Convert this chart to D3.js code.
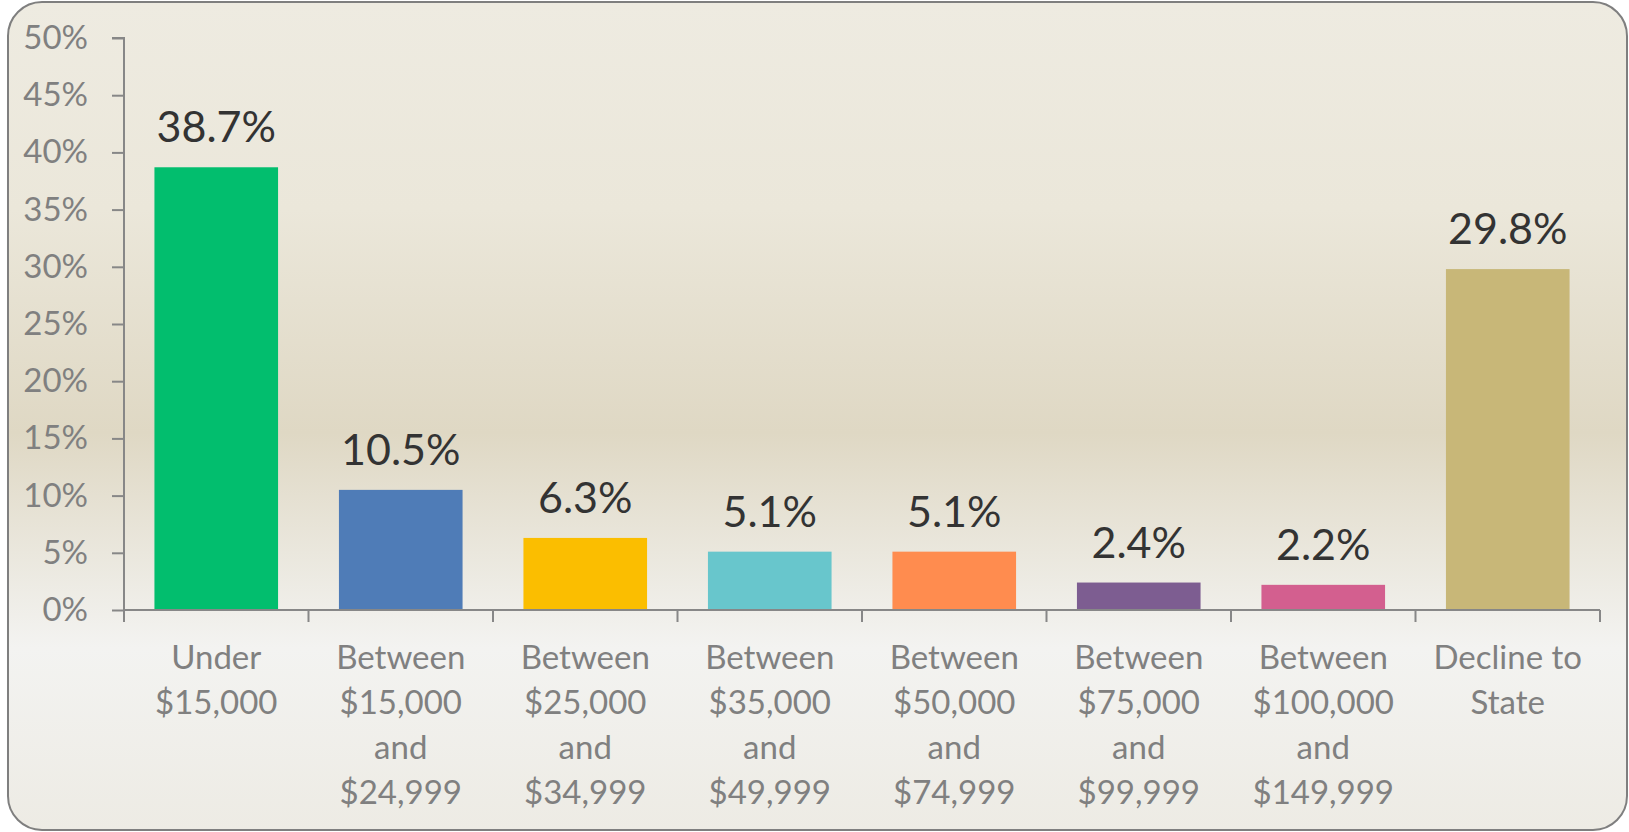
<!DOCTYPE html>
<html>
<head>
<meta charset="utf-8">
<script src="https://cdn.jsdelivr.net/npm/d3@7"></script>
<style>
  body { margin: 0; background: #fff; }
  svg { display: block; }
</style>
</head>
<body>
<script>
var categories = [
    ["Under", "$15,000"],
    ["Between", "$15,000", "and", "$24,999"],
    ["Between", "$25,000", "and", "$34,999"],
    ["Between", "$35,000", "and", "$49,999"],
    ["Between", "$50,000", "and", "$74,999"],
    ["Between", "$75,000", "and", "$99,999"],
    ["Between", "$100,000", "and", "$149,999"],
    ["Decline to", "State"]
];
var values = [38.7, 10.5, 6.3, 5.1, 5.1, 2.4, 2.2, 29.8];
var colors = ["#02be6e", "#4f7cb7", "#fbbe00", "#68c6cc", "#ff8c4f", "#7d5d91", "#d35f8f", "#c8b778"];
var yTicks = [0, 5, 10, 15, 20, 25, 30, 35, 40, 45, 50];

var w = 1629, h = 832;
var plotLeft = 124, plotRight = 1600, plotTop = 38, plotBottom = 610;
var font = "Lato, Carlito, sans-serif";

var svg = d3.select("body")
            .append("svg")
            .attr("width", w)
            .attr("height", h);

// background gradient
var grad = svg.append("defs").append("linearGradient")
    .attr("id", "bg")
    .attr("x1", 0).attr("y1", 0).attr("x2", 0).attr("y2", 1);
grad.append("stop").attr("offset", "0%").attr("stop-color", "#eeebe1");
grad.append("stop").attr("offset", "25%").attr("stop-color", "#ebe7da");
grad.append("stop").attr("offset", "52%").attr("stop-color", "#dfd8c4");
grad.append("stop").attr("offset", "78%").attr("stop-color", "#f3f3f1");
grad.append("stop").attr("offset", "100%").attr("stop-color", "#edebe4");

svg.append("rect")
    .attr("x", 8).attr("y", 2)
    .attr("width", w - 10).attr("height", h - 4)
    .attr("rx", 34).attr("ry", 34)
    .attr("fill", "url(#bg)")
    .attr("stroke", "#7f7f7f")
    .attr("stroke-width", 2);

var x = d3.scaleBand()
    .domain(d3.range(values.length))
    .range([plotLeft, plotRight])
    .paddingInner(0.33)
    .paddingOuter(0.165);

var y = d3.scaleLinear()
    .domain([0, 50])
    .range([plotBottom, plotTop]);

// y axis
var yAxis = svg.append("g")
    .attr("transform", "translate(" + plotLeft + ",0)")
    .call(d3.axisLeft(y).tickValues(yTicks).tickSize(12).tickPadding(24)
        .tickFormat(function(d) { return d + "%"; }));
yAxis.select(".domain").attr("stroke", "#878787").attr("stroke-width", 2)
    .attr("d", "M-12," + plotTop + "H0V" + (plotBottom + 12));
yAxis.selectAll(".tick line").attr("stroke", "#878787").attr("stroke-width", 2);
yAxis.selectAll(".tick text")
    .attr("fill", "#808080")
    .attr("font-family", font)
    .attr("font-size", "33px");

// bars
svg.selectAll("rect.bar")
    .data(values)
    .enter()
    .append("rect")
    .attr("class", "bar")
    .attr("x", function(d, i) { return x(i); })
    .attr("y", function(d) { return y(d); })
    .attr("width", x.bandwidth())
    .attr("height", function(d) { return plotBottom - y(d); })
    .attr("fill", function(d, i) { return colors[i]; });

// x axis line + ticks
var step = x.step();
var xTickPos = d3.range(values.length + 1).map(function(i) { return plotLeft + i * step; });
svg.append("line")
    .attr("x1", plotLeft).attr("x2", plotRight)
    .attr("y1", plotBottom).attr("y2", plotBottom)
    .attr("stroke", "#878787").attr("stroke-width", 2);
svg.selectAll("line.xtick")
    .data(xTickPos)
    .enter()
    .append("line")
    .attr("class", "xtick")
    .attr("x1", function(d) { return d; })
    .attr("x2", function(d) { return d; })
    .attr("y1", plotBottom).attr("y2", plotBottom + 12)
    .attr("stroke", "#878787").attr("stroke-width", 2);

// value labels
svg.selectAll("text.val")
    .data(values)
    .enter()
    .append("text")
    .attr("class", "val")
    .text(function(d) { return d.toFixed(1) + "%"; })
    .attr("x", function(d, i) { return x(i) + x.bandwidth() / 2; })
    .attr("y", function(d) { return y(d) - 25; })
    .attr("font-family", font)
    .attr("font-size", "43px")
    .attr("fill", "#333333")
    .attr("text-anchor", "middle");

// category labels
var cat = svg.selectAll("text.cat")
    .data(categories)
    .enter()
    .append("text")
    .attr("class", "cat")
    .attr("x", function(d, i) { return x(i) + x.bandwidth() / 2; })
    .attr("y", 669)
    .attr("font-family", font)
    .attr("font-size", "33px")
    .attr("fill", "#808080")
    .attr("text-anchor", "middle");
cat.selectAll("tspan")
    .data(function(d) { return d; })
    .enter()
    .append("tspan")
    .attr("x", function() { return d3.select(this.parentNode).attr("x"); })
    .attr("dy", function(d, i) { return i === 0 ? 0 : 45; })
    .text(function(d) { return d; });
</script>
</body>
</html>
